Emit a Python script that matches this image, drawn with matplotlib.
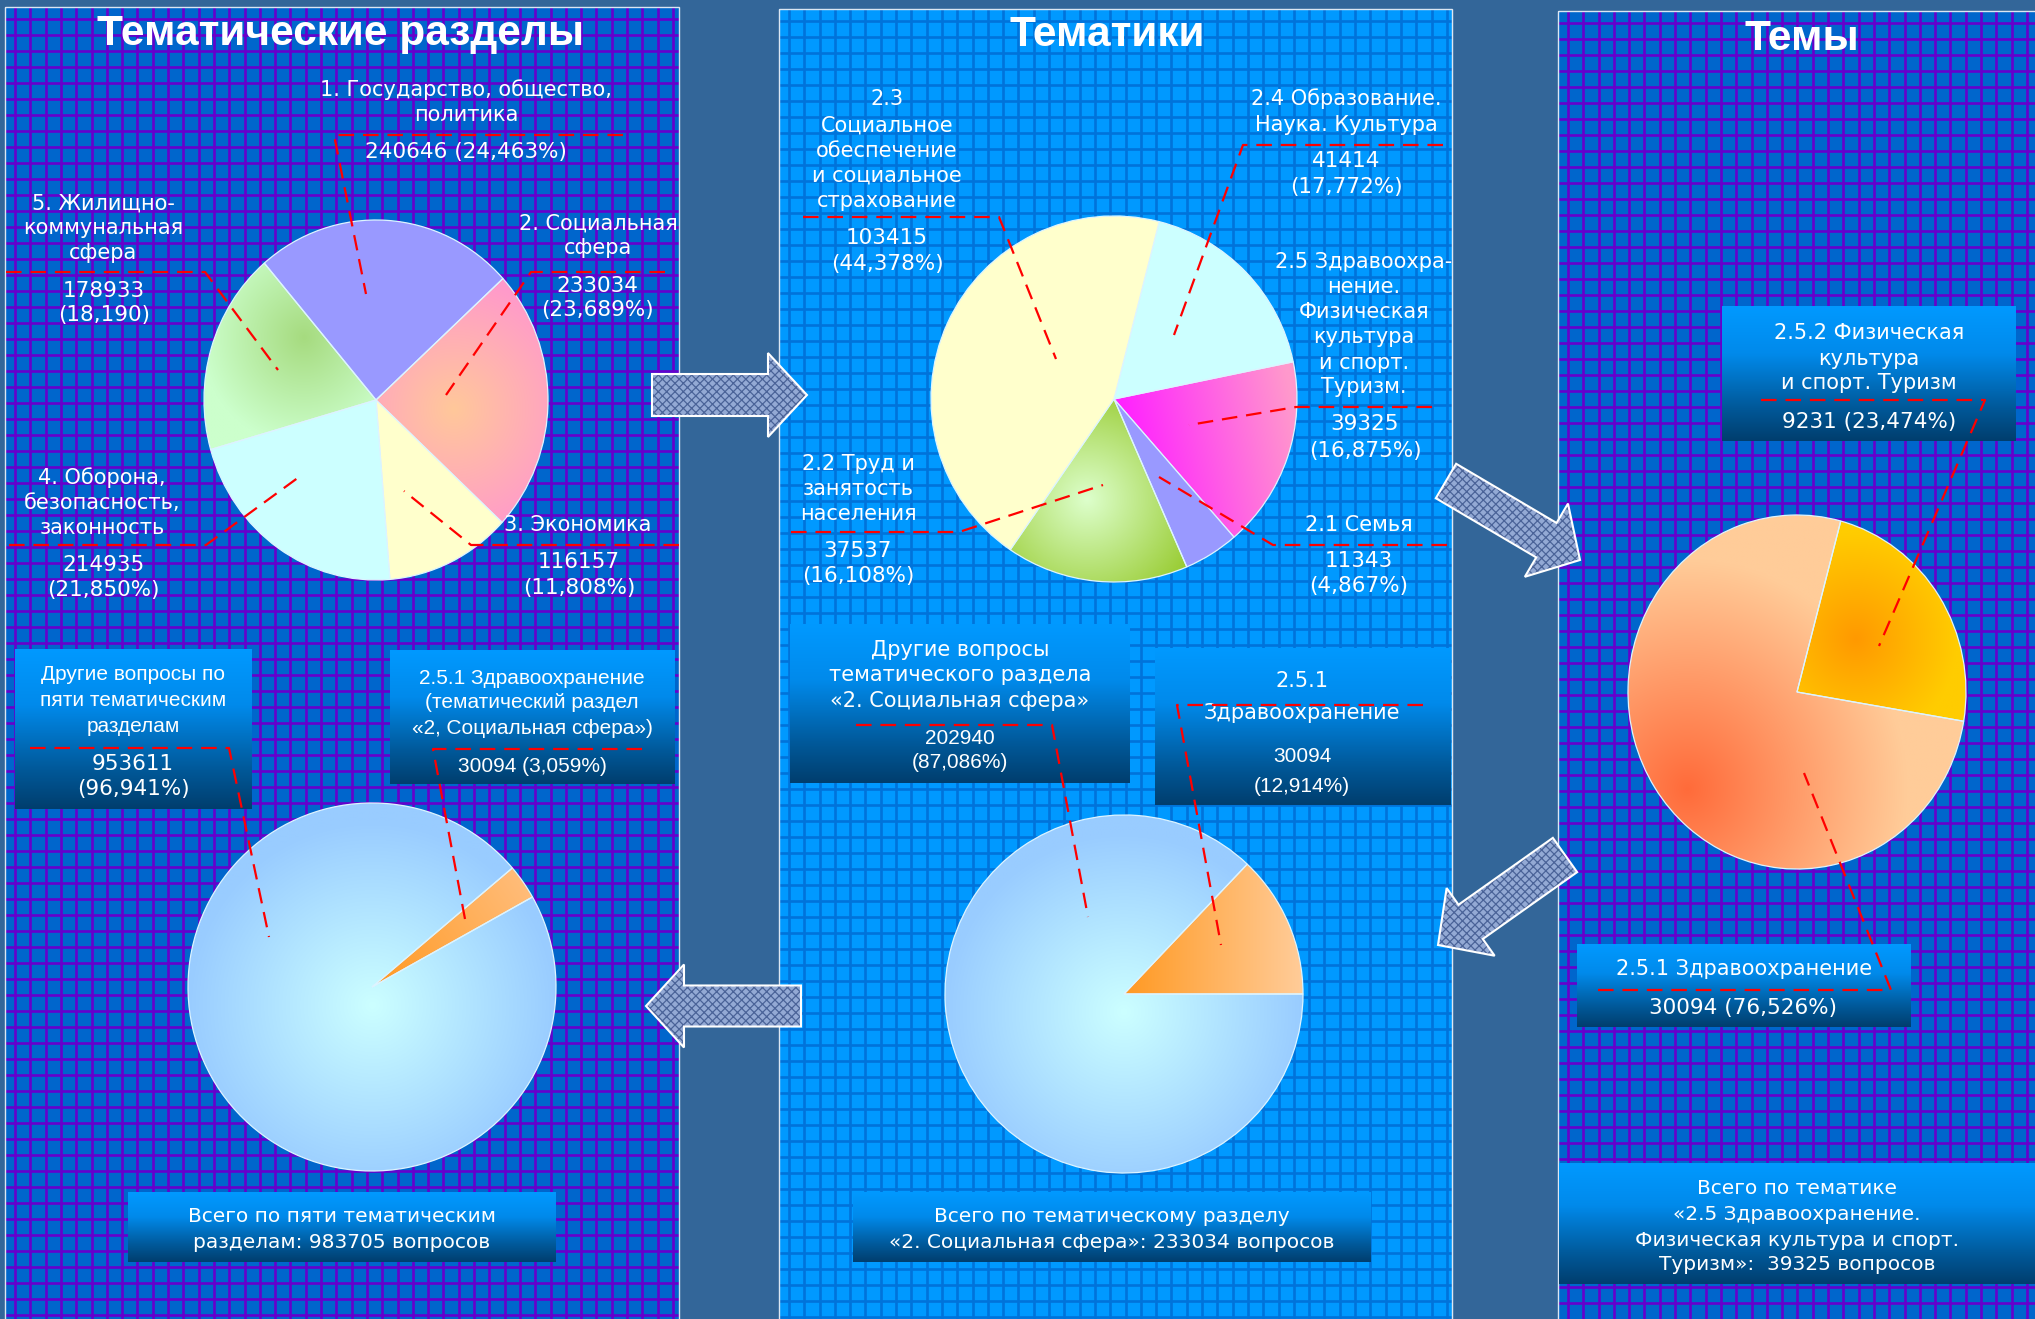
import numpy as np
import matplotlib
matplotlib.use('Agg')
import matplotlib.pyplot as plt
from matplotlib.patches import Rectangle, Polygon
from matplotlib.collections import LineCollection
from matplotlib.colors import to_rgb, LinearSegmentedColormap

plt.rcParams['font.family'] = ['DejaVu Sans']

W, H = 2035, 1319

# ---- data ----
sections = ['1. Государство, общество,\nполитика', '2. Социальная\nсфера', '3. Экономика',
            '4. Оборона,\nбезопасность,\nзаконность', '5. Жилищно-\nкоммунальная\nсфера']
section_values = [240646, 233034, 116157, 214935, 178933]

themes = ['2.4 Образование.\nНаука. Культура',
          '2.5 Здравоохра-\nнение.\nФизическая\nкультура\nи спорт.\nТуризм.',
          '2.1 Семья', '2.2 Труд и\nзанятость\nнаселения',
          '2.3\nСоциальное\nобеспечение\nи социальное\nстрахование']
theme_values = [41414, 39325, 11343, 37537, 103415]
theme_pct = ['17,772', '16,875', '4,867', '16,108', '44,378']  # as printed in the source

topics = ['2.5.2 Физическая\nкультура\nи спорт. Туризм', '2.5.1 Здравоохранение']
topic_values = [9231, 30094]

all_split = ['2.5.1 Здравоохранение\n(тематический раздел\n«2, Социальная сфера»)',
             'Другие вопросы по\nпяти тематическим\nразделам']
all_split_values = [30094, 953611]

social_split = ['2.5.1\nЗдравоохранение',
                'Другие вопросы\nтематического раздела\n«2. Социальная сфера»']
social_split_values = [30094, 202940]


def pct(v, tot):
    return f'{100 * v / tot:.3f}'.replace('.', ',')


fig = plt.figure(figsize=(W / 100, H / 100), dpi=100)
fig.patch.set_facecolor('#336699')

# ---- background panels ----
bg = fig.add_axes([0, 0, 1, 1])
bg.set_xlim(0, W)
bg.set_ylim(H, 0)
bg.axis('off')

panels = [(5, 7, 679, '#0066CC', '#6600CC'),
          (779, 9, 1452, '#0099FF', '#0073DA'),
          (1558, 11, 2045, '#0066CC', '#6600CC')]
for x0, y0, x1, fc, gc in panels:
    r = Rectangle((x0, y0), x1 - x0, H + 5 - y0, facecolor=fc, edgecolor='none', zorder=1)
    bg.add_patch(r)
    xs = np.arange(x0 + 10, x1, 15.3)
    ys = np.arange(y0 + 12, H, 16)
    segs = [[(x, y0), (x, H)] for x in xs] + [[(x0, y), (x1, y)] for y in ys]
    lc = LineCollection(segs, colors=gc, linewidths=1.9, zorder=2)
    lc.set_clip_path(r)
    bg.add_collection(lc)
    bg.add_patch(Rectangle((x0, y0), x1 - x0, H + 5 - y0, facecolor='none',
                           edgecolor='#DCE6F2', lw=1, zorder=3))


def arrow_pts(tail, tip, sw, hw, hl):
    t = np.array(tail, float)
    p = np.array(tip, float)
    d = p - t
    u = d / np.hypot(*d)
    n = np.array([-u[1], u[0]])
    b = p - u * hl
    return [t + n * sw / 2, b + n * sw / 2, b + n * hw / 2, p,
            b - n * hw / 2, b - n * sw / 2, t - n * sw / 2]


plt.rcParams['hatch.linewidth'] = 0.9
arrows = [((652, 395), (807, 395), 42, 84, 39),
          ((1446, 481), (1580, 560), 40, 85, 39),
          ((1565, 855), (1438, 945), 42, 83, 40),
          ((801, 1006), (646, 1006), 41, 83, 38)]
for tail, tip, sw, hw, hl in arrows:
    pts = arrow_pts(tail, tip, sw, hw, hl)
    bg.add_patch(Polygon(pts, closed=True, facecolor='#93A9D4', edgecolor='#4A6398',
                         hatch='xxxx', lw=0, zorder=4))
    bg.add_patch(Polygon(pts, closed=True, facecolor='none', edgecolor='white', lw=1.5, zorder=5))


# ---- pies ----
def grad_img(kind, c0, c1, p, q, n=300):
    xs = np.linspace(-1, 1, n)
    X, Y = np.meshgrid(xs, xs)
    if kind == 'radial':
        t = np.hypot(X - p[0], Y - p[1]) / q
    else:
        d = np.array(q, float) - np.array(p, float)
        t = ((X - p[0]) * d[0] + (Y - p[1]) * d[1]) / (d @ d)
    t = np.clip(t, 0, 1)[..., None]
    a, b = np.array(to_rgb(c0)), np.array(to_rgb(c1))
    return a + (b - a) * t


def draw_pie(cx, cy, rx, ry, values, fills, start, clockwise=True):
    pad = 1.03
    ax = fig.add_axes([(cx - rx * pad) / W, 1 - (cy + ry * pad) / H,
                       2 * rx * pad / W, 2 * ry * pad / H])
    wedges, _ = ax.pie(values, startangle=start, counterclock=not clockwise, radius=1,
                       wedgeprops=dict(edgecolor='#DDF4FF', linewidth=0.9))
    for w, f in zip(wedges, fills):
        w.set_zorder(2)
        if isinstance(f, str):
            w.set_facecolor(f)
        else:
            im = ax.imshow(grad_img(*f), extent=(-1, 1, -1, 1), origin='lower',
                           aspect='auto', zorder=1, interpolation='bilinear')
            im.set_clip_path(w)
            w.set_facecolor('none')
    ax.set_xlim(-pad, pad)
    ax.set_ylim(-pad, pad)
    ax.set_aspect('auto')
    ax.axis('off')


draw_pie(376, 400, 172, 180, section_values,
         ['#9999FF',
          ('radial', '#FFC89A', '#FF99CC', (0.45, -0.05), 0.75),
          '#FFFFCC', '#CCFFFF',
          ('radial', '#A6DB7F', '#CCFFCC', (-0.42, 0.35), 0.6)], 130.5)

draw_pie(1114, 399, 183, 183, theme_values,
         ['#CCFFFF',
          ('linear', '#FF22FF', '#FF99CC', (0.05, -0.1), (0.95, 0.1)),
          '#9999FF',
          ('radial', '#DDFFCC', '#99CC33', (-0.15, -0.55), 0.65),
          '#FFFFCC'], 75.7)

draw_pie(1797, 692, 169, 177, topic_values,
         [('radial', '#FF9900', '#FFCC00', (0.35, 0.3), 0.6),
          ('radial', '#FF6B3A', '#FFCC99', (-0.65, -0.55), 1.3)], 75)

draw_pie(372, 987, 184, 184, all_split_values,
         [('linear', '#FF9922', '#FFBF80', (0.0, 0.0), (0.9, 0.6)),
          ('radial', '#CCFFFF', '#99CCFF', (0.0, -0.1), 1.0)], 40.3)

draw_pie(1124, 994, 179, 179, social_split_values,
         [('linear', '#FF9922', '#FFCC99', (0.0, 0.0), (1.0, 0.0)),
          ('radial', '#CCFFFF', '#99CCFF', (0.0, -0.1), 1.0)], 0, clockwise=False)

# ---- overlay: boxes, labels, leaders ----
ov = fig.add_axes([0, 0, 1, 1])
ov.patch.set_alpha(0)
ov.axis('off')

box_cmap = LinearSegmentedColormap.from_list(
    'box', [(0, '#0099FF'), (0.35, '#008AEB'), (0.75, '#00599A'), (1, '#003E6E')])


def box(x0, y0, x1, y1):
    ov.imshow(np.linspace(0, 1, 200)[:, None], cmap=box_cmap, extent=(x0, x1, y1, y0),
              origin='upper', aspect='auto', zorder=3)


def put(x, ys, s, size=15, fam='DejaVu Sans', **kw):
    for y, line in zip(ys, s.split('\n')):
        ov.text(x, y, line, ha='center', va='center_baseline', color='white',
                fontsize=size, family=fam, zorder=6, **kw)


def dash(pts):
    xs, ys = zip(*pts)
    ov.plot(xs, ys, color='#FF0000', lw=1.6, ls=(0, (7, 4)), zorder=7)


# titles
put(341, [29], 'Тематические разделы', size=30.5, fam='Liberation Sans', fontweight='bold')
put(1107, [31], 'Тематики', size=30.5, fam='Liberation Sans', fontweight='bold')
put(1802, [34], 'Темы', size=30.5, fam='Liberation Sans', fontweight='bold')

tot_s = sum(section_values)
# left top pie labels
put(466, [88, 113], sections[0])
put(466, [150], f'{section_values[0]} ({pct(section_values[0], tot_s)}%)', size=15.5)
dash([(623, 135), (334, 135), (366, 294)])

put(598, [222, 246], sections[1])
put(597, [284, 308], f'{section_values[1]}\n({pct(section_values[1], tot_s)}%)', size=15.5)
dash([(665, 272), (531, 272), (446, 395)])

put(578, [523], sections[2])
put(579, [560, 586], f'{section_values[2]}\n({pct(section_values[2], tot_s)}%)', size=15.5)
dash([(679, 545), (471, 545), (404, 491)])

put(102, [476, 501, 526], sections[3])
put(103, [563, 588], f'{section_values[3]}\n({pct(section_values[3], tot_s)}%)', size=15.5)
dash([(9, 545), (206, 545), (299, 477)])

put(103, [202, 226, 251], sections[4])
put(104, [289, 313], f'{section_values[4]}\n({pct(section_values[4], tot_s)})', size=15.5)
dash([(6, 272), (205, 272), (278, 370)])

# middle top pie labels
put(1346, [97, 123], themes[0])
put(1346, [159, 185], f'{theme_values[0]}\n({theme_pct[0]}%)', size=15.5)
dash([(1443, 145), (1243, 145), (1174, 335)])

put(1364, [260, 285, 310, 335, 361, 385], themes[1])
put(1365, [422, 449], f'{theme_values[1]}\n({theme_pct[1]}%)', size=15.5)
dash([(1432, 407), (1296, 407), (1189, 425)])

put(1359, [523], themes[2])
put(1359, [559, 584], f'{theme_values[2]}\n({theme_pct[2]}%)', size=15.5)
dash([(1447, 545), (1273, 545), (1159, 477)])

put(858, [462, 487, 512], themes[3])
put(858, [549, 574], f'{theme_values[3]}\n({theme_pct[3]}%)', size=15.5)
dash([(791, 532), (959, 532), (1103, 485)])

put(887, [97, 124, 149, 174, 199], themes[4])
put(887, [236, 262], f'{theme_values[4]}\n({theme_pct[4]}%)', size=15.5)
dash([(803, 217), (999, 217), (1056, 359)])

# right pie labels
tot_p = sum(topic_values)
box(1722, 306, 2016, 441)
put(1869, [331, 357, 381], topics[0])
put(1869, [420], f'{topic_values[0]} ({pct(topic_values[0], tot_p)}%)', size=15.5)
dash([(1761, 400), (1985, 400), (1879, 646)])

box(1577, 944, 1911, 1027)
put(1744, [967], topics[1])
put(1743, [1006], f'{topic_values[1]} ({pct(topic_values[1], tot_p)}%)', size=15.5)
dash([(1598, 990), (1891, 990), (1804, 773)])

box(1559, 1163, 2035, 1284)
put(1797, [1187, 1212, 1238, 1263],
    f'Всего по тематике\n«2.5 Здравоохранение.\nФизическая культура и спорт.\nТуризм»:  {tot_p} вопросов',
    size=14.5)

# left bottom pie labels
tot_a = sum(all_split_values)
box(15, 649, 252, 809)
put(133, [673, 699, 725], all_split[1], fam='Liberation Sans')
put(133, [762, 787], f'{all_split_values[1]}\n({pct(all_split_values[1], tot_a)}%)', size=15.5)
dash([(30, 748), (229, 748), (269, 937)])

box(390, 650, 675, 784)
put(532, [676, 700, 726], all_split[0], fam='Liberation Sans')
put(532, [764], f'{all_split_values[0]} ({pct(all_split_values[0], tot_a)}%)', fam='Liberation Sans')
dash([(642, 749), (433, 749), (465, 919)])

box(128, 1192, 556, 1262)
put(342, [1215, 1241], f'Всего по пяти тематическим\nразделам: {tot_a} вопросов', size=14.5)

# middle bottom pie labels
tot_m = sum(social_split_values)
box(790, 624, 1130, 783)
put(960, [648, 673, 699], social_split[1])
put(960, [736, 761], f'{social_split_values[1]}\n({pct(social_split_values[1], tot_m)}%)',
    fam='Liberation Sans')
dash([(856, 725), (1052, 725), (1088, 917)])

box(1155, 648, 1451, 805)
put(1302, [679, 711], social_split[0])
put(1302, [754, 785], f'{social_split_values[0]}\n({pct(social_split_values[0], tot_m)}%)',
    fam='Liberation Sans')
dash([(1423, 705), (1177, 705), (1221, 945)])

box(853, 1192, 1371, 1262)
put(1112, [1215, 1240],
    f'Всего по тематическому разделу\n«2. Социальная сфера»: {tot_m} вопросов', size=14.5)

ov.set_xlim(0, W)
ov.set_ylim(H, 0)

fig.savefig('out.png', dpi=100, facecolor=fig.get_facecolor())
